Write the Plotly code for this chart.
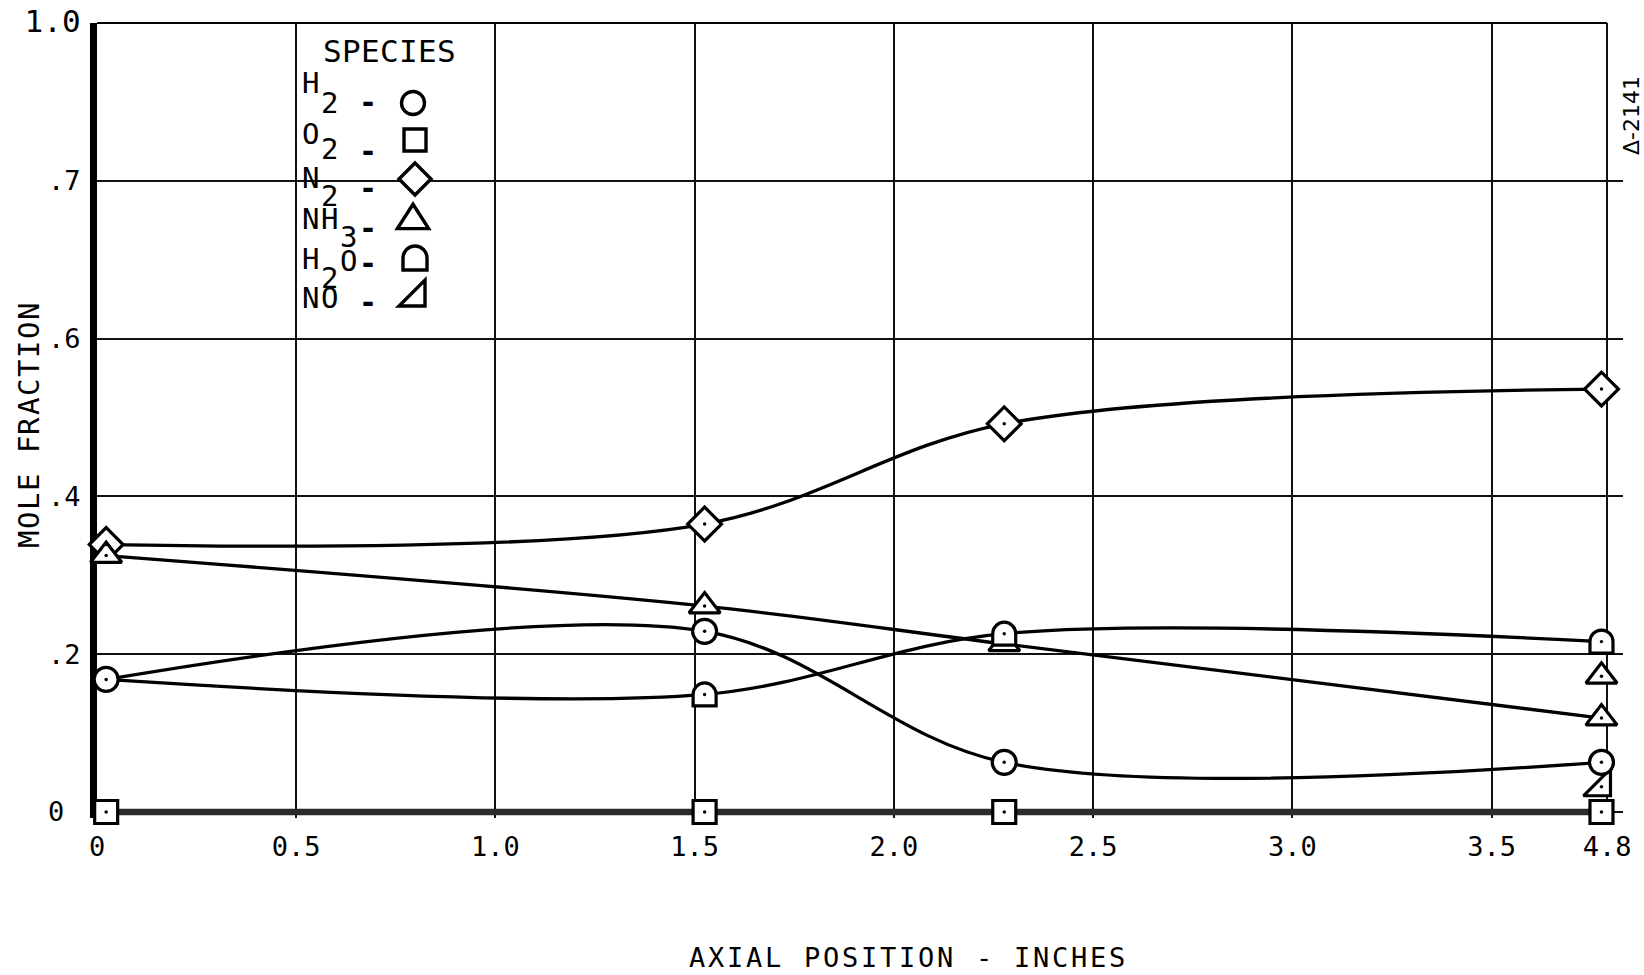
import plotly.graph_objects as go

# ---------------- data ----------------
stations = [0.023, 1.525, 2.277, 3.776]          # axial stations (axis units)
h2  = [0.168, 0.229, 0.063, 0.063]
o2  = [0.0, 0.0, 0.0, 0.0]
n2  = [0.339, 0.365, 0.492, 0.536]
nh3 = [0.325, 0.261, 0.213, 0.119]
h2o = [0.168, 0.149, 0.226, 0.216]
h2o_symbol_shown = [False, True, True, True]     # x0 point hidden under the H2 circle
nh3_extra_x = [3.776]
nh3_extra_y = [0.172]
no_x = [3.776]
no_y = [0.032]

x_end = 3.79                                      # right frame line of the grid
x_tickvals = [0, 0.5, 1.0, 1.5, 2.0, 2.5, 3.0, 3.5, x_end]
x_ticktext = ["0", "0.5", "1.0", "1.5", "2.0", "2.5", "3.0", "3.5", "4.8"]
y_tickvals = [0, 0.2, 0.4, 0.6, 0.8, 1.0]
y_ticktext = ["0\u00a0", ".2", ".4", ".6", ".7", "<span style='font-size:31px'>1.0</span>"]

# ---------------- layout geometry ----------------
W_FIG, H_FIG = 1644, 975
X_RANGE_END = 3.83
L, T, B = 97, 23, 157
PW = round(1510 * X_RANGE_END / x_end)
R = W_FIG - L - PW
PH = H_FIG - T - B
MONO = "DejaVu Sans Mono"


def paper(xpx, ypx):
    return (xpx - L) / PW, (H_FIG - B - ypx) / PH


fig = go.Figure()

# lines first
for ys in (h2, h2o, n2, nh3):
    fig.add_trace(go.Scatter(x=stations, y=ys, mode="lines",
                             line=dict(color="black", width=3.3, shape="spline", smoothing=0.95),
                             hoverinfo="skip", showlegend=False))
fig.add_trace(go.Scatter(x=stations, y=o2, mode="lines",
                         line=dict(color="#2b2b2b", width=6.5),
                         hoverinfo="skip", showlegend=False))

mk = dict(color="white", line=dict(color="black", width=3.2))
# markers
fig.add_trace(go.Scatter(x=stations, y=n2, mode="markers", cliponaxis=False,
                         marker=dict(symbol="diamond", size=26, **mk), showlegend=False))
fig.add_trace(go.Scatter(x=stations, y=nh3, mode="markers", cliponaxis=False,
                         marker=dict(symbol="triangle-up", size=27, **mk), showlegend=False))
fig.add_trace(go.Scatter(x=nh3_extra_x, y=nh3_extra_y, mode="markers", cliponaxis=False,
                         marker=dict(symbol="triangle-up", size=27, **mk), showlegend=False))
fig.add_trace(go.Scatter(x=no_x, y=no_y, mode="markers", cliponaxis=False,
                         marker=dict(symbol="triangle-se", size=30, **mk), showlegend=False))
fig.add_trace(go.Scatter(x=stations, y=h2, mode="markers", cliponaxis=False,
                         marker=dict(symbol="circle", size=24, **mk), showlegend=False))
fig.add_trace(go.Scatter(x=stations, y=o2, mode="markers", cliponaxis=False,
                         marker=dict(symbol="square", size=23, **mk), showlegend=False))

# centre dots
dot_x = stations * 4 + nh3_extra_x + no_x
dot_y = n2 + nh3 + h2 + o2 + nh3_extra_y + no_y
fig.add_trace(go.Scatter(x=dot_x, y=dot_y, mode="markers", cliponaxis=False,
                         marker=dict(symbol="circle", size=3.5, color="black"),
                         hoverinfo="skip", showlegend=False))

# ---------------- custom marker paths (pixel units, y up) ----------------
k = 0.5523


def d_path(r):
    c = r * k
    return (f"M{-r},{-r} L{r},{-r} L{r},0 C{r},{c} {c},{r} 0,{r} "
            f"C{-c},{r} {-r},{c} {-r},0 Z")


PATHS = {
    "square": lambda r: f"M{-r},{-r} L{r},{-r} L{r},{r} L{-r},{r} Z",
    "diamond": lambda r: f"M0,{r} L{r},0 L0,{-r} L{-r},0 Z",
    "triangle": lambda r: f"M{-r * 1.25},{-r * 0.85} L{r * 1.25},{-r * 0.85} L0,{r * 1.1} Z",
    "rtri": lambda r: f"M{-r},{-r} L{r},{-r} L{r},{r} Z",
    "D": d_path,
}

shapes = []

# blank strip right of the frame line (hides grid lines beyond 4.8)
shapes.append(dict(type="rect", xref="x", yref="paper", x0=x_end + 0.004, x1=X_RANGE_END,
                   y0=-0.01, y1=1.01, fillcolor="white", line=dict(width=0), layer="between"))
# top frame line
shapes.append(dict(type="line", xref="x", yref="paper", x0=0, x1=x_end, y0=1, y1=1,
                   line=dict(color="black", width=1.8), layer="above"))
# gap in the .7 grid line behind the species key
gx0, gy0 = paper(301, 184)
gx1, gy1 = paper(443, 174)
shapes.append(dict(type="rect", xref="paper", yref="paper", x0=gx0, x1=gx1, y0=gy0, y1=gy1,
                   fillcolor="white", line=dict(width=0), layer="between"))


def sym(kind, xa, ya, r, xref, yref, lw=3.2):
    base = dict(xref=xref, yref=yref, xsizemode="pixel", ysizemode="pixel",
                xanchor=xa, yanchor=ya, line=dict(color="black", width=lw),
                fillcolor="white", layer="above")
    if kind == "circle":
        shapes.append(dict(type="circle", x0=-r, x1=r, y0=-r, y1=r, **base))
    else:
        shapes.append(dict(type="path", path=PATHS[kind](r), **base))


# H2O "D" markers on the data
for xv, yv, show in zip(stations, h2o, h2o_symbol_shown):
    if show:
        sym("D", xv, yv, 11.5, "x", "y")
        shapes.append(dict(type="circle", xref="x", yref="y", xsizemode="pixel",
                           ysizemode="pixel", xanchor=xv, yanchor=yv,
                           x0=-1.7, x1=1.7, y0=-1.7, y1=1.7,
                           fillcolor="black", line=dict(width=0), layer="above"))

annotations = []


def txt(s, xpx, ypx, size, angle=0, family=MONO, weight="normal"):
    xp, yp = paper(xpx, ypx)
    annotations.append(dict(text=s, x=xp, y=yp, xref="paper", yref="paper",
                            xanchor="center", yanchor="middle", showarrow=False,
                            textangle=angle,
                            font=dict(family=family, size=size, color="black", weight=weight)))


def spaced(s, xpx, ypx, pitch, size, angle=0):
    for i, ch in enumerate(s):
        if ch == " ":
            continue
        if angle == 0:
            txt(ch, xpx + i * pitch, ypx, size)
        else:
            txt(ch, xpx, ypx - i * pitch, size, angle)


# species key
spaced("SPECIES", 332, 51, 19, 31)
key_rows = [
    ([("H", 310, 83), ("2", 329, 103), ("-", 368, 103)], "circle", (413, 103), 11.5),
    ([("O", 310, 134), ("2", 329, 149), ("-", 368, 152)], "square", (415, 140), 11),
    ([("N", 310, 178), ("2", 329, 196), ("-", 368, 189)], "diamond", (415, 179), 16),
    ([("N", 310, 219), ("H", 329, 219), ("3", 348, 237), ("-", 368, 228)], "triangle", (413, 218), 12.5),
    ([("H", 310, 259), ("2", 329, 278), ("O", 348, 261), ("-", 368, 263)], "D", (415, 258), 12),
    ([("N", 310, 298), ("O", 329, 298), ("-", 368, 302)], "rtri", (412, 293), 13),
]
for chars, kind, (sx, sy), r in key_rows:
    for ch, cx, cy in chars:
        if ch == "-":
            txt(ch, cx, cy, 30, weight="bold")
        else:
            txt(ch, cx, cy, 29)
    xa, ya = paper(sx, sy)
    sym(kind, xa, ya, r, "paper", "paper", lw=3.4)

# axis titles
spaced("MOLE FRACTION", 29, 540, 19, 29, angle=-90)
spaced("AXIAL POSITION - INCHES", 697, 957, 19.1, 27)
# hand-written note
txt("\u0394-2141", 1632, 116, 22, angle=-90, family="DejaVu Sans")

fig.update_layout(
    width=W_FIG, height=H_FIG,
    margin=dict(l=L, r=R, t=T, b=B, pad=0, autoexpand=False),
    paper_bgcolor="white", plot_bgcolor="white",
    showlegend=False,
    shapes=shapes, annotations=annotations,
    xaxis=dict(range=[0, X_RANGE_END], tickvals=x_tickvals, ticktext=x_ticktext,
               showgrid=True, gridcolor="#111111", gridwidth=1.6, automargin=False,
               zeroline=False, showline=False, ticks="", ticklabelstandoff=10,
               tickfont=dict(family=MONO, size=27, color="black"), layer="below traces"),
    yaxis=dict(range=[-0.0076, 1.0], tickvals=y_tickvals, ticktext=y_ticktext,
               showgrid=True, gridcolor="#111111", gridwidth=1.6, automargin=False,
               zeroline=False, showline=True, linecolor="black", linewidth=7,
               ticks="", ticklabelstandoff=4,
               tickfont=dict(family=MONO, size=27, color="black"), layer="below traces"),
)

fig.write_html("out.html")
